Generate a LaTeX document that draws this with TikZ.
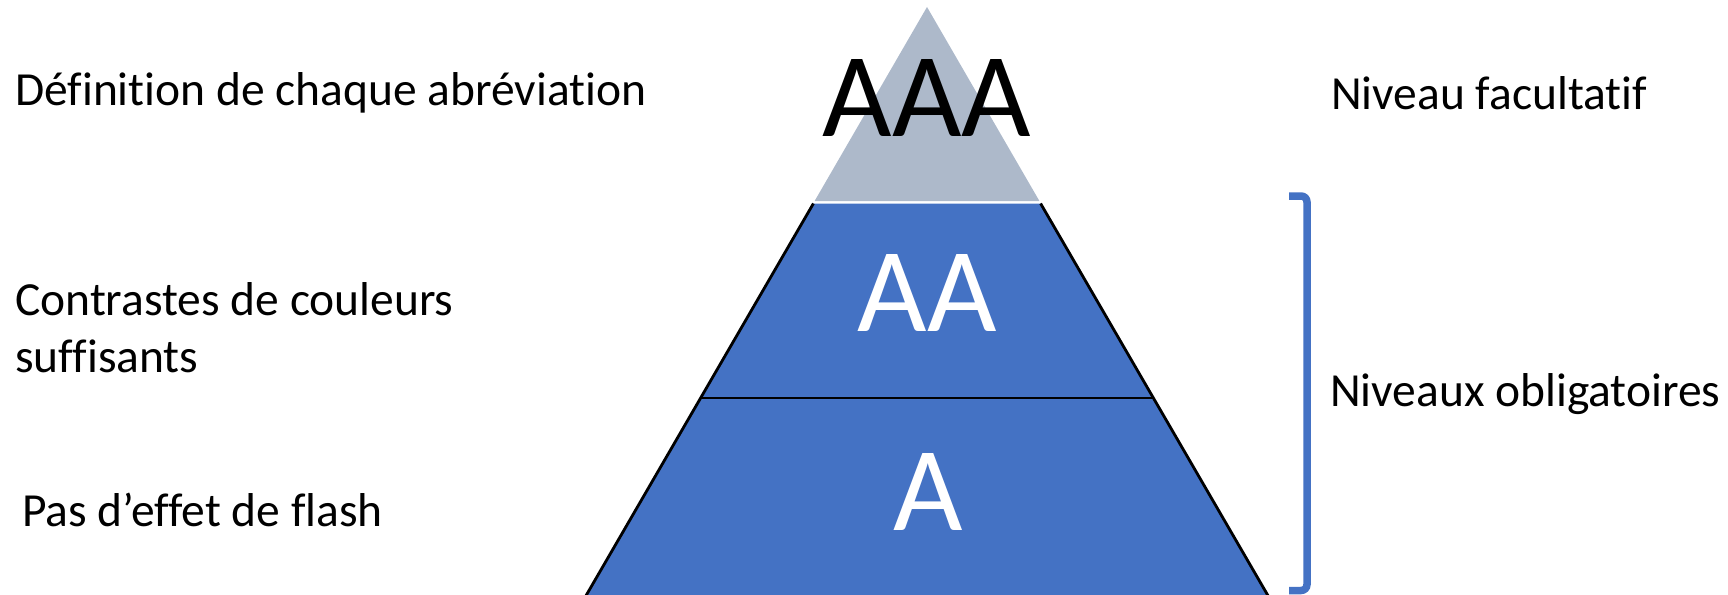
\documentclass[tikz,border=0pt]{standalone}
\usepackage{fontspec}
\setmainfont{Carlito}[Ligatures=NoCommon]
\definecolor{tierblue}{HTML}{4472C4}
\definecolor{tiergray}{HTML}{ADB9CA}
\begin{document}
\begin{tikzpicture}[x=1pt,y=-1pt,
  lbl/.style={inner sep=0pt,anchor=base west,font=\fontsize{47.5}{57}\selectfont},
  tierlbl/.style={inner sep=0pt,anchor=base,font=\fontsize{120}{130}\selectfont},
  edge/.style={line width=2.8pt,black},
  brk/.style={line width=7.5pt,tierblue,rounded corners=6pt}]
\useasboundingbox (0,0) rectangle (1728,594);
% coordinates
\coordinate (apex) at (927,7);
\coordinate (tl) at (814.6,201);
\coordinate (tr) at (1039.4,201);
\coordinate (ml) at (813.4,203.5);
\coordinate (mr) at (1040.6,203.5);
\coordinate (bl1) at (700.5,398);
\coordinate (br1) at (1153.5,398);
\coordinate (bl) at (580,606);
\coordinate (br) at (1274,606);
% tiers
\fill[tiergray] (apex) -- (tl) -- (tr) -- cycle;
\fill[tierblue] (ml) -- (mr) -- (br1) -- (bl1) -- cycle;
\fill[tierblue] (bl1) -- (br1) -- (br) -- (bl) -- cycle;
\draw[edge] (ml) -- (bl);
\draw[edge] (mr) -- (br);
\draw[edge] (bl1) -- (br1);
% tier labels
\node[tierlbl,text=black] (aaa) at (927,136) {AAA};
\node[tierlbl,text=white] (aa) at (927,331) {AA};
\node[tierlbl,text=white] (a) at (928,530) {A};
% left labels
\node[lbl] (def) at (15,105) {Définition de chaque abréviation};
\node[lbl] (contr1) at (15,315) {Contrastes de couleurs};
\node[lbl] (contr2) at (15,372) {suffisants};
\node[lbl] (flash) at (22,526) {Pas d’effet de flash};
% right labels
\node[lbl] (fac) at (1331,109) {Niveau facultatif};
\node[lbl] (obl) at (1330,406) {Niveaux obligatoires};
% bracket
\coordinate (bktop) at (1289,196);
\coordinate (bkbot) at (1289,590.5);
\draw[brk] (bktop) -- (1307,196) -- (1307,590.5) -- (bkbot);
\end{tikzpicture}
\end{document}
